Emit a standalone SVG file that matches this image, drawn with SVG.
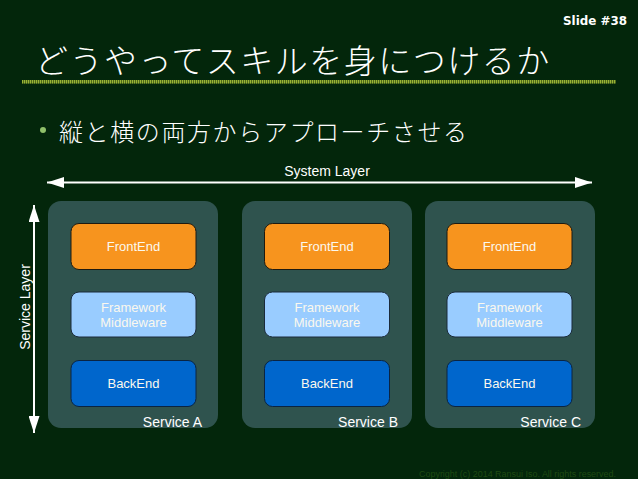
<svg xmlns="http://www.w3.org/2000/svg" width="638" height="479" viewBox="0 0 638 479">
  <defs>
    <marker id="ah" viewBox="0 0 17 11" refX="17" refY="5.5" markerWidth="17" markerHeight="11" markerUnits="userSpaceOnUse" orient="auto-start-reverse">
      <path d="M0,0 L17,5.5 L0,11 Z" fill="#ffffff"/>
    </marker>
    <style>
      .bg { fill: #03260b; }
      .svc { fill: #2f534e; }
      .fe { fill: #f7941e; stroke: #1e1a10; stroke-width: 1; }
      .fw { fill: #99ccff; stroke: #1a2a3a; stroke-width: 1; }
      .be { fill: #0066cc; stroke: #0a2442; stroke-width: 1; }
      .lbl { font-family: "Liberation Sans", Arial, sans-serif; font-size: 13px; fill: #fbf8ee; text-anchor: middle; }
      .svcl { font-family: "Liberation Sans", Arial, sans-serif; font-size: 14px; fill: #ffffff; text-anchor: end; }
      .axis { font-family: "Liberation Sans", Arial, sans-serif; font-size: 14px; fill: #ffffff; text-anchor: middle; }
      .arrow { stroke: #ffffff; stroke-width: 2; fill: none; }
      .jp { font-family: "Noto Sans CJK JP", "Noto Sans", sans-serif; fill: #ffffff; }
    </style>
  </defs>
  <rect class="bg" x="0" y="0" width="638" height="479"/>

  <g id="header">
    <text x="627" y="25" font-family="'DejaVu Sans', sans-serif" font-weight="bold" font-size="13" fill="#ffffff" text-anchor="end" textLength="64" lengthAdjust="spacingAndGlyphs">Slide #38</text>
    <text class="jp" x="35" y="73" font-size="33" letter-spacing="1.5" font-weight="300">どうやってスキルを身につけるか</text>
    <rect x="22" y="80" width="594" height="3.5" fill="#3f5a14"/>
    <line x1="22" y1="81.75" x2="616" y2="81.75" stroke="#98b236" stroke-width="3.5" stroke-dasharray="1.2 0.8"/>
    <circle cx="43" cy="130" r="3" fill="#8fc06a"/>
    <text class="jp" x="59" y="141" font-size="24" letter-spacing="1.6" font-weight="300">縦と横の両方からアプローチさせる</text>
  </g>

  <g id="connectors">
    <line class="arrow" x1="47" y1="182.5" x2="592" y2="182.5" marker-start="url(#ah)" marker-end="url(#ah)"/>
    <line class="arrow" x1="34" y1="205" x2="34" y2="433" marker-start="url(#ah)" marker-end="url(#ah)"/>
    <text class="axis" x="327" y="176">System Layer</text>
    <text class="axis" transform="translate(30,307) rotate(-90)">Service Layer</text>
  </g>

  <g id="serviceA">
    <rect class="svc" x="48" y="201" width="170" height="227" rx="13"/>
    <text class="svcl" x="202" y="427">Service A</text>
  </g>
  <g id="serviceB">
    <rect class="svc" x="242" y="201" width="170" height="227" rx="13"/>
    <text class="svcl" x="398" y="427">Service B</text>
  </g>
  <g id="serviceC">
    <rect class="svc" x="425" y="201" width="170" height="227" rx="13"/>
    <text class="svcl" x="581" y="427">Service C</text>
  </g>

  <g id="frontendA"><rect class="fe" x="71" y="223.5" width="125" height="46" rx="8"/><text class="lbl" x="133.5" y="251">FrontEnd</text></g>
  <g id="frameworkA"><rect class="fw" x="71" y="292" width="125" height="45" rx="8"/><text class="lbl" x="133.5" y="312">Framework</text><text class="lbl" x="133.5" y="327">Middleware</text></g>
  <g id="backendA"><rect class="be" x="71" y="360.5" width="125" height="46" rx="8"/><text class="lbl" x="133.5" y="388">BackEnd</text></g>

  <g id="frontendB"><rect class="fe" x="264.5" y="223.5" width="125" height="46" rx="8"/><text class="lbl" x="327" y="251">FrontEnd</text></g>
  <g id="frameworkB"><rect class="fw" x="264.5" y="292" width="125" height="45" rx="8"/><text class="lbl" x="327" y="312">Framework</text><text class="lbl" x="327" y="327">Middleware</text></g>
  <g id="backendB"><rect class="be" x="264.5" y="360.5" width="125" height="46" rx="8"/><text class="lbl" x="327" y="388">BackEnd</text></g>

  <g id="frontendC"><rect class="fe" x="447" y="223.5" width="125" height="46" rx="8"/><text class="lbl" x="509.5" y="251">FrontEnd</text></g>
  <g id="frameworkC"><rect class="fw" x="447" y="292" width="125" height="45" rx="8"/><text class="lbl" x="509.5" y="312">Framework</text><text class="lbl" x="509.5" y="327">Middleware</text></g>
  <g id="backendC"><rect class="be" x="447" y="360.5" width="125" height="46" rx="8"/><text class="lbl" x="509.5" y="388">BackEnd</text></g>

  <text x="419" y="477" font-family="'Liberation Sans', Arial, sans-serif" font-size="8.5" fill="#1f4a12" textLength="197" lengthAdjust="spacingAndGlyphs">Copyright (c) 2014 Ransui Iso. All rights reserved.</text>
</svg>
